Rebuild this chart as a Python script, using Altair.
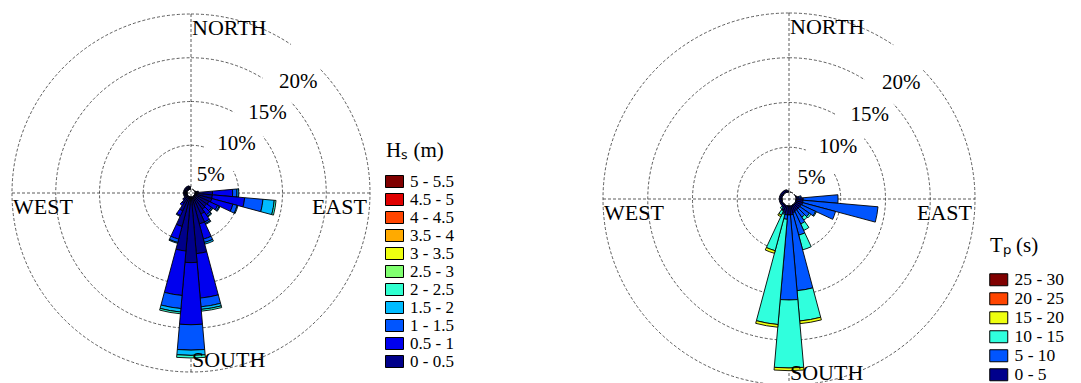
import altair as alt
import pandas as pd
import numpy as np

# ---------------- data ----------------
directions = list(range(0, 360, 10))

hs_labels = ["0 - 0.5", "0.5 - 1", "1 - 1.5", "1.5 - 2", "2 - 2.5", "2.5 - 3",
             "3 - 3.5", "3.5 - 4", "4 - 4.5", "4.5 - 5", "5 - 5.5"]
hs_colors = ["#00008a", "#0000ee", "#0055ff", "#00bbff", "#30ffd0", "#80ff70",
             "#eeff10", "#ffaa00", "#ff4500", "#e00000", "#7f0000"]

# frequency (%) per direction bin (0, 10, ..., 350 deg) for each Hs class
hs_0_05 = [0.0, 0.0, 0.0, 0.0, 0.0, 0.0, 0.0, 0.1, 0.3, 2.0, 2.0, 2.0, 1.8, 1.7, 1.8, 2.2, 3.2, 6.5,
           7.5, 6.2, 3.5, 1.8, 1.0, 0.6, 0.4, 0.4, 0.4, 0.4, 0.4, 0.4, 0.4, 0.4, 0.4, 0.4, 0.4, 0.3]
hs_05_1 = [0.0, 0.0, 0.0, 0.0, 0.0, 0.0, 0.0, 0.0, 0.1, 2.3, 3.7, 2.5, 1.1, 0.7, 0.8, 1.0, 1.8, 5.1,
           7.1, 5.1, 1.5, 0.6, 0.3, 0.1, 0.0, 0.0, 0.0, 0.0, 0.0, 0.0, 0.0, 0.0, 0.0, 0.0, 0.0, 0.0]
hs_1_15 = [0.0, 0.0, 0.0, 0.0, 0.0, 0.0, 0.0, 0.0, 0.0, 0.5, 2.1, 0.5, 0.2, 0.15, 0.2, 0.2, 0.4, 1.0,
           2.9, 1.5, 0.4, 0.1, 0.0, 0.0, 0.0, 0.0, 0.0, 0.0, 0.0, 0.0, 0.0, 0.0, 0.0, 0.0, 0.0, 0.0]
hs_15_2 = [0.0, 0.0, 0.0, 0.0, 0.0, 0.0, 0.0, 0.0, 0.0, 0.2, 1.3, 0.1, 0.1, 0.05, 0.1, 0.1, 0.2, 0.3,
           0.6, 0.4, 0.1, 0.0, 0.0, 0.0, 0.0, 0.0, 0.0, 0.0, 0.0, 0.0, 0.0, 0.0, 0.0, 0.0, 0.0, 0.0]
hs_2_25 = [0.0, 0.0, 0.0, 0.0, 0.0, 0.0, 0.0, 0.0, 0.0, 0.0, 0.2, 0.0, 0.0, 0.0, 0.0, 0.0, 0.0, 0.2,
           0.3, 0.2, 0.0, 0.0, 0.0, 0.0, 0.0, 0.0, 0.0, 0.0, 0.0, 0.0, 0.0, 0.0, 0.0, 0.0, 0.0, 0.0]
hs_series = [hs_0_05, hs_05_1, hs_1_15, hs_15_2, hs_2_25]

tp_labels = ["0 - 5", "5 - 10", "10 - 15", "15 - 20", "20 - 25", "25 - 30"]
tp_colors = ["#00008c", "#0055ff", "#30ffdd", "#eeff10", "#ff4500", "#800000"]

tp_0_5 = [0.0, 0.0, 0.0, 0.0, 0.0, 0.0, 0.0, 0.1, 0.3, 0.8, 0.8, 0.8, 0.7, 0.7, 0.7, 0.7, 0.8, 1.0,
          1.0, 1.0, 0.8, 0.6, 0.4, 0.3, 0.3, 0.3, 0.3, 0.3, 0.3, 0.3, 0.3, 0.3, 0.3, 0.3, 0.3, 0.2]
tp_5_10 = [0.0, 0.0, 0.0, 0.0, 0.0, 0.0, 0.0, 0.0, 0.3, 3.9, 8.4, 3.8, 1.8, 1.3, 1.0, 1.6, 2.6, 8.5,
           9.5, 0.5, 0.2, 0.1, 0.0, 0.0, 0.0, 0.0, 0.0, 0.0, 0.0, 0.0, 0.0, 0.0, 0.0, 0.0, 0.0, 0.0]
tp_10_15 = [0.0, 0.0, 0.0, 0.0, 0.0, 0.0, 0.0, 0.0, 0.0, 0.0, 0.0, 0.0, 0.1, 0.2, 0.4, 0.8, 1.7, 3.4,
            7.6, 11.8, 4.2, 0.5, 0.2, 0.0, 0.0, 0.0, 0.0, 0.0, 0.0, 0.0, 0.0, 0.0, 0.0, 0.0, 0.0, 0.0]
tp_15_20 = [0.0, 0.0, 0.0, 0.0, 0.0, 0.0, 0.0, 0.0, 0.0, 0.0, 0.0, 0.0, 0.0, 0.0, 0.0, 0.0, 0.0, 0.3,
            0.3, 0.3, 0.3, 0.2, 0.0, 0.0, 0.0, 0.0, 0.0, 0.0, 0.0, 0.0, 0.0, 0.0, 0.0, 0.0, 0.0, 0.0]
tp_series = [tp_0_5, tp_5_10, tp_10_15, tp_15_20]

ring_values = [5, 10, 15, 20]
ring_texts = ["5%", "10%", "15%", "20%"]
compass_names = ["NORTH", "EAST", "SOUTH", "WEST"]
compass_angles = [0, 90, 180, 270]

FONT = "Liberation Serif"
BIN = 10


def stacked_frame(series, labels):
    rows = []
    for i, d in enumerate(directions):
        cum = 0.0
        for k, s in enumerate(series):
            v = s[i]
            if v <= 0:
                continue
            rows.append({"dir": d, "a0": d - BIN / 2, "a1": d + BIN / 2,
                         "r_in": cum, "r_out": cum + v, "cls": labels[k]})
            cum += v
    return pd.DataFrame(rows)


def rose(series, labels, colors, title, W, H, r0, R, legend_x, legend_y, title_pad,
         label_size):
    df = stacked_frame(series, labels)
    rscale = alt.Scale(type="linear", domain=[0, 20], range=[r0, R], zero=False)
    tscale = alt.Scale(type="linear", domain=[0, 360], range=[0, 2 * np.pi], zero=False)

    def RAD(f):
        return alt.Radius(f, scale=rscale, stack=None)

    def TH(f):
        return alt.Theta(f, scale=tscale, stack=None)

    # ring gap (white behind the percentage labels)
    k = (R - r0) / 20.0
    gaps = []
    for v in ring_values:
        rp = r0 + k * v
        half = np.degrees(19.0 / rp)
        gaps.append({"ring": v, "g0": 40 - half, "g1": 40 + half})
    gap_df = pd.DataFrame(gaps)
    ring_df = pd.DataFrame({"ring": ring_values, "txt": ring_texts, "ang": [45] * 4,
                            "full0": [0] * 4, "full1": [360] * 4})
    comp_df = pd.DataFrame({"name": compass_names, "ang": compass_angles, "ring": [20] * 4})

    rings = alt.Chart(ring_df).mark_arc(filled=False, stroke="#333333", strokeWidth=0.8,
                                        strokeDash=[3, 2]).encode(
        theta=TH("full0:Q"), theta2="full1:Q",
        radius=RAD("ring:Q"))

    gap = alt.Chart(gap_df).mark_arc(fill="white", radiusOffset=3, radius2Offset=-3).encode(
        theta=TH("g0:Q"), theta2="g1:Q",
        radius=RAD("ring:Q"), radius2="ring:Q")

    one = pd.DataFrame({"a": [0]})
    cx, cy = W / 2, H / 2
    hline = alt.Chart(one).mark_rule(stroke="#333333", strokeWidth=0.8, strokeDash=[3, 2]).encode(
        x=alt.value(cx - R), x2=alt.value(cx + R), y=alt.value(cy))
    vline = alt.Chart(one).mark_rule(stroke="#333333", strokeWidth=0.8, strokeDash=[3, 2]).encode(
        x=alt.value(cx), y=alt.value(cy - R), y2=alt.value(cy + R))

    # legend swatch: 18 x 12 px rectangle (path spans +-1.5 at unit size 12)
    sym = "M-1.5,-1H1.5V1H-1.5Z"
    bars = alt.Chart(df).mark_arc(stroke="black", strokeWidth=0.9).encode(
        theta=TH("a0:Q"), theta2="a1:Q",
        radius=RAD("r_out:Q"), radius2="r_in:Q",
        color=alt.Color("cls:N",
                        scale=alt.Scale(domain=labels[::-1], range=colors[::-1]),
                        legend=alt.Legend(title=title, orient="none",
                                          legendX=legend_x, legendY=legend_y,
                                          symbolType=sym, symbolSize=144,
                                          symbolStrokeColor="black", symbolStrokeWidth=1,
                                          symbolOpacity=1,
                                          labelFont=FONT, labelFontSize=label_size,
                                          labelColor="black", labelOffset=7,
                                          titleFont=FONT, titleFontSize=21,
                                          titleFontWeight="normal", titleColor="black",
                                          titlePadding=title_pad, rowPadding=0)))

    pct = alt.Chart(ring_df).mark_text(font=FONT, fontSize=21, align="right", baseline="top",
                                       dy=5, color="black").encode(
        theta=TH("ang:Q"), radius=RAD("ring:Q"), text="txt:N")

    def comp(name, align, baseline, dx, dy):
        return alt.Chart(comp_df[comp_df["name"] == name]).mark_text(
            font=FONT, fontSize=22, align=align, baseline=baseline, dx=dx, dy=dy,
            color="black").encode(
            theta=TH("ang:Q"), radius=RAD("ring:Q"), text="name:N")

    labels_layers = [comp("NORTH", "left", "top", 1, 4),
                     comp("EAST", "right", "top", -3, 4),
                     comp("SOUTH", "left", "alphabetic", 1, -5),
                     comp("WEST", "left", "top", 1, 4)]

    return alt.layer(rings, gap, hline, vline, bars, pct, *labels_layers).properties(
        width=W, height=H)


left = rose(hs_series, hs_labels, hs_colors, "Hₛ (m)", 366, 370, 4, 179,
            378, 132, 12, 17)
right = rose(tp_series, tp_labels, tp_colors, "Tₚ (s)", 380, 382, 7, 186,
             391, 227, 15, 17.5)

chart = alt.hconcat(left, right, spacing=225, bounds="flush").resolve_scale(
    color="independent", radius="independent", theta="independent"
).properties(padding=0).configure_view(strokeWidth=0)

chart.save("out.html", embed_options={"renderer": "svg", "actions": False})
